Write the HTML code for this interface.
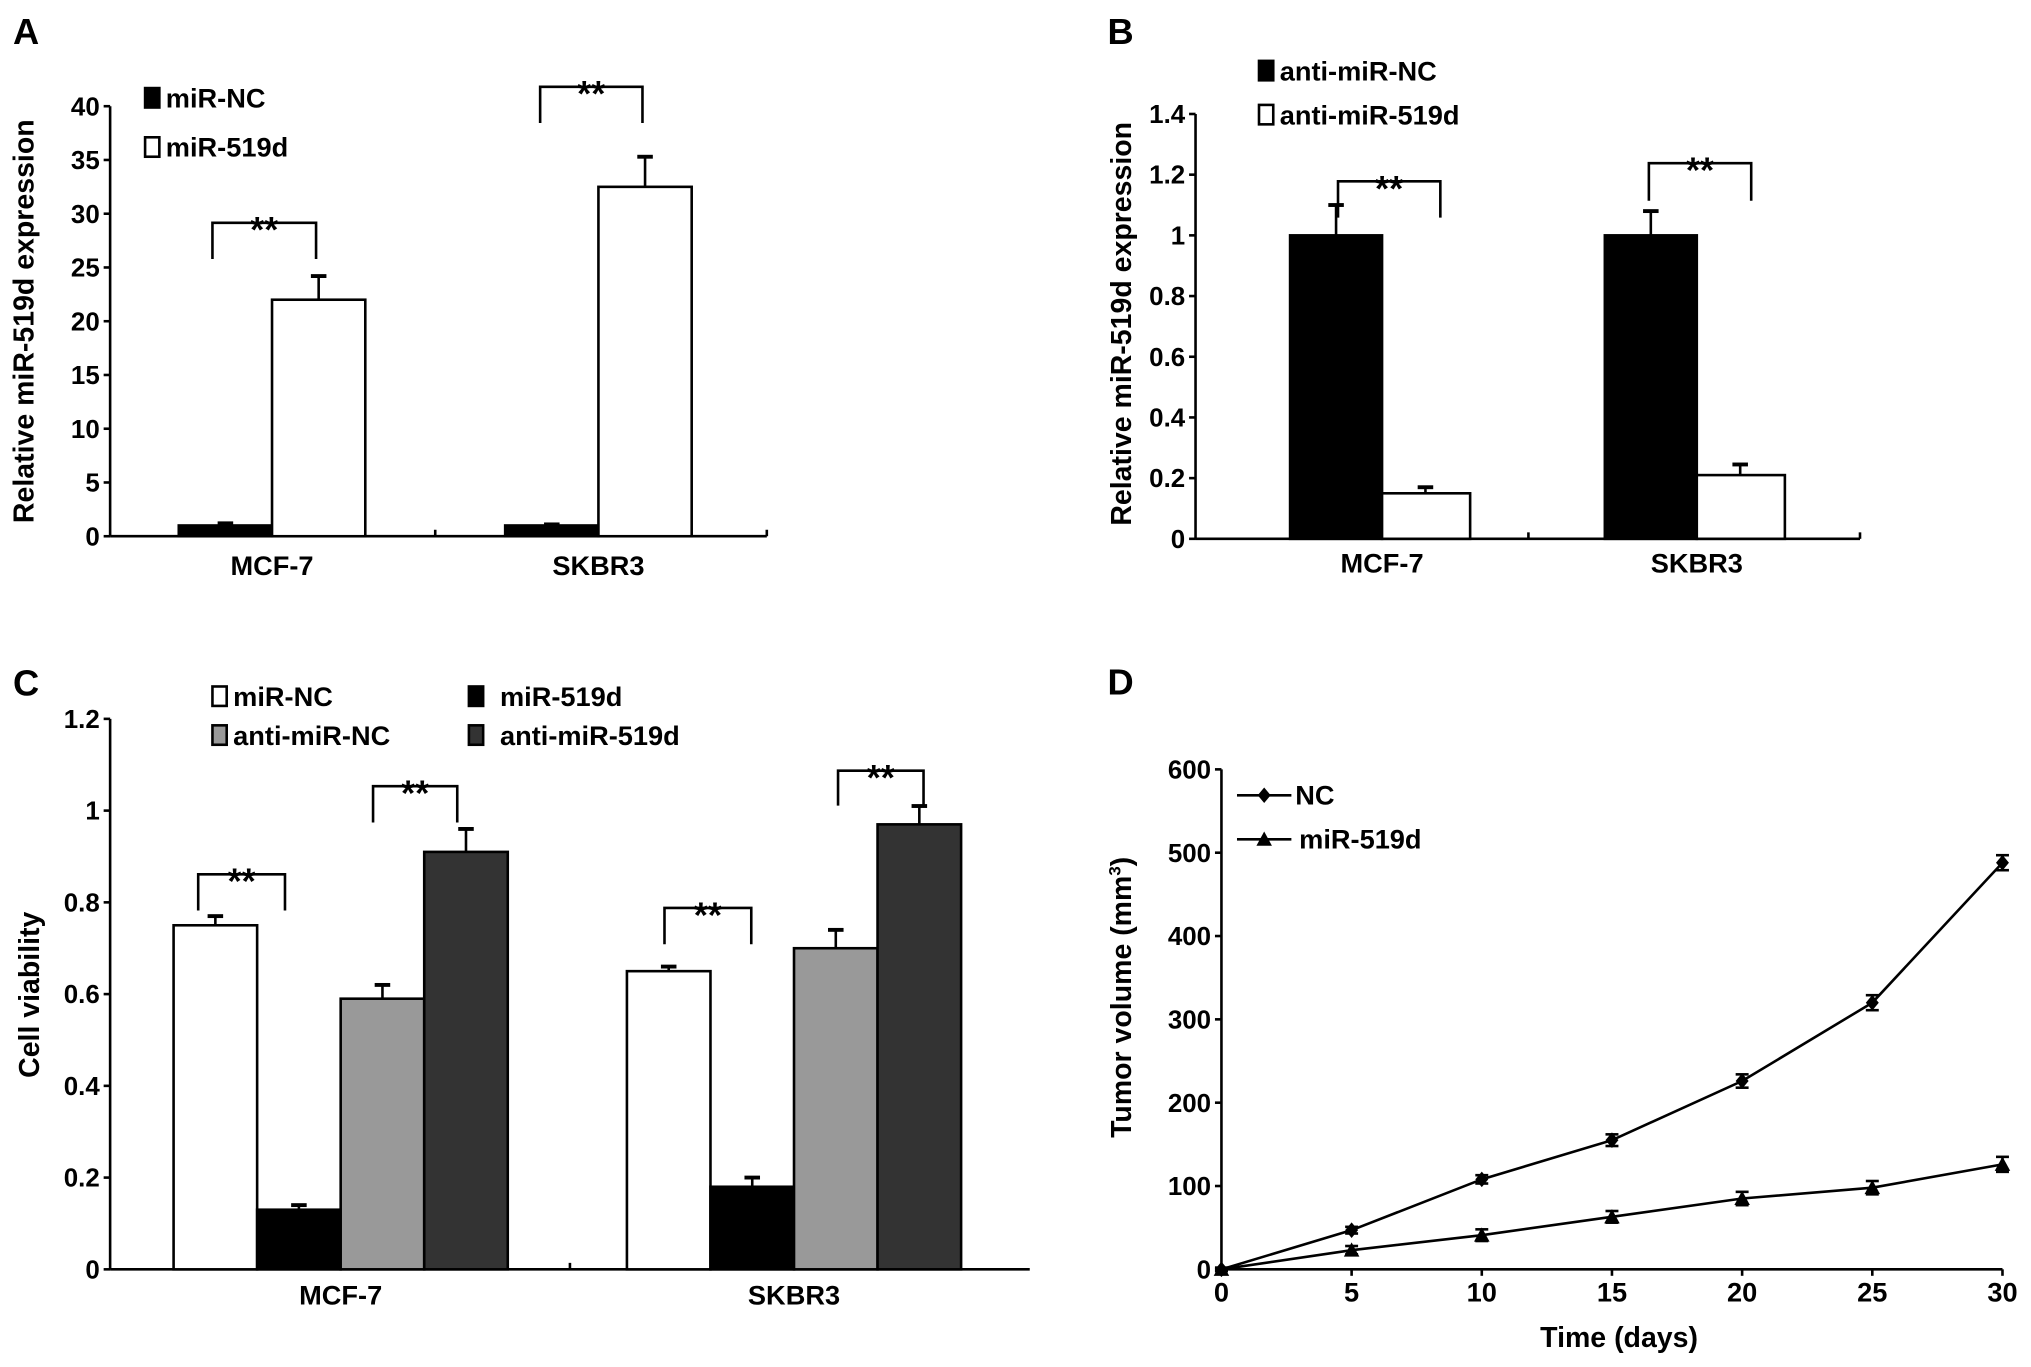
<!DOCTYPE html>
<html><head><meta charset="utf-8"><style>
html,body{margin:0;padding:0;background:#fff;}
svg{display:block;font-family:"Liberation Sans",Arial,sans-serif;font-weight:bold;}
</style></head><body>
<svg id="fig" xmlns="http://www.w3.org/2000/svg" width="2031" height="1367" viewBox="0 0 1568 1055.4"></svg>
<script>
// Panel A data
const catsA = ["MCF-7","SKBR3"];
const seriesA = ["miR-NC","miR-519d"];
const valsA_nc = [1.0, 1.0];
const errA_nc = [0.2, 0.1];
const valsA_519 = [22.0, 32.5];
const errA_519 = [2.2, 2.8];
const ticksA = [0,5,10,15,20,25,30,35,40];
// Panel B data
const catsB = ["MCF-7","SKBR3"];
const seriesB = ["anti-miR-NC","anti-miR-519d"];
const valsB_nc = [1.0, 1.0];
const errB_nc = [0.1, 0.08];
const valsB_519 = [0.15, 0.21];
const errB_519 = [0.02, 0.035];
const ticksB = [0,0.2,0.4,0.6,0.8,1,1.2,1.4];
// Panel C data
const catsC = ["MCF-7","SKBR3"];
const seriesC = ["miR-NC","miR-519d","anti-miR-NC","anti-miR-519d"];
const valsC_mirNC = [0.75, 0.65];
const errC_mirNC = [0.02, 0.01];
const valsC_mir519 = [0.13, 0.18];
const errC_mir519 = [0.01, 0.02];
const valsC_antiNC = [0.59, 0.70];
const errC_antiNC = [0.03, 0.04];
const valsC_anti519 = [0.91, 0.97];
const errC_anti519 = [0.05, 0.04];
const ticksC = [0,0.2,0.4,0.6,0.8,1,1.2];
// Panel D data
const daysD = [0,5,10,15,20,25,30];
const valsD_nc = [0,47,108,155,226,320,488];
const errD_nc = [2,4,5,7,8,9,9];
const valsD_519 = [0,23,41,63,85,98,126];
const errD_519 = [2,5,7,7,8,8,9];
const ticksDy = [0,100,200,300,400,500,600];
const ticksDx = [0,5,10,15,20,25,30];

const svg = document.getElementById('fig');
const NS = "http://www.w3.org/2000/svg";
function mk(tag, attrs, parent){
  const e = document.createElementNS(NS, tag);
  for (const k in attrs) e.setAttribute(k, attrs[k]);
  (parent||svg).appendChild(e);
  return e;
}
function txt(s, x, y, size, anchor, parent){
  const t = mk('text', {x:x, y:y, 'font-size':size, 'text-anchor':anchor||'middle', fill:'#000'}, parent);
  t.textContent = s;
  return t;
}
function line(x1,y1,x2,y2,w,parent){ return mk('line',{x1:x1,y1:y1,x2:x2,y2:y2,stroke:'#000','stroke-width':w||2},parent); }

function axesY(g, x0, y0, yTop, ticks, maxV, fmt){
  const sy = v => y0 - (v/maxV)*(y0-yTop);
  line(x0, yTop, x0, y0, 2, g);
  ticks.forEach(v=>{
    line(x0-5, sy(v), x0, sy(v), 2, g);
    const t = txt(fmt(v), x0-8, sy(v)+7, 20, 'end', g);
    
    
  });
  return sy;
}
function bar(g, x, w, y0, yv, fill, name){
  const r = mk('rect',{x:x, y:yv, width:w, height:y0-yv, fill:fill, stroke:'#000','stroke-width':2}, g);
  
  
}
function errUp(g, cx, yv, ye){
  line(cx, yv, cx, ye, 2, g);
  line(cx-6, ye, cx+6, ye, 3, g);
}
function bracket(g, x1, x2, y, drop){
  const p = mk('path',{d:`M${x1} ${y+drop} V${y} H${x2} V${y+drop}`, fill:'none', stroke:'#000','stroke-width':2}, g);
  
  
  const t = txt('**', (x1+x2)/2, y+15, 28, 'middle', g);
  
  
}
function ylabel(g, s, x, y){
  const t = mk('text',{x:0,y:0,'font-size':22,'text-anchor':'middle',fill:'#000',transform:`translate(${x},${y}) rotate(-90)`}, g);
  t.textContent = s;
  
  
  return t;
}
function legendBox(g, x, y, fill, label, name){
  const r = mk('rect',{x:x, y:y-8, width:11, height:15, fill:fill, stroke:'#000','stroke-width':2}, g);
  
  
  const t = txt(label, x+16, y+7, 21, 'start', g);
  
  
}
function panelLetter(s,x,y){
  const t = txt(s,x,y,28,'start');
  
  
}
const fmtDec = v => (v===0?'0':(Number.isInteger(v)?String(v):v.toFixed(1)));

// ---------- Panel A ----------
{
  const g = mk('g',{});
  
  
  panelLetter('A',10,34);
  const x0=85, y0=414, yTop=82, xEnd=592;
  const sy = axesY(g, x0, y0, yTop, ticksA, 40, v=>String(v));
  line(x0, y0, xEnd, y0, 2, g);
  line(336, y0, 336, y0-5, 2, g);
  line(xEnd, y0, xEnd, y0-5, 2, g);
  const centers=[210,462], bw = 72;
  catsA.forEach((c,i)=>{
    const cx = centers[i];
    bar(g, cx-bw, bw, y0, sy(valsA_nc[i]), '#000', 'bar-mir-nc-'+c.toLowerCase());
    errUp(g, cx-bw/2, sy(valsA_nc[i]), sy(valsA_nc[i]+errA_nc[i]));
    bar(g, cx, bw, y0, sy(valsA_519[i]), '#fff', 'bar-mir-519d-'+c.toLowerCase());
    errUp(g, cx+bw/2, sy(valsA_519[i]), sy(valsA_519[i]+errA_519[i]));
    const t = txt(c, cx, 444, 21, 'middle', g);
    
    
  });
  bracket(g,164,244,172,28);
  bracket(g,417,496,67,28);
  legendBox(g,112,76,'#000','miR-NC','legend-mir-nc');
  legendBox(g,112,114,'#fff','miR-519d','legend-mir-519d');
  ylabel(g,'Relative miR-519d expression',26,248);
}
// ---------- Panel B ----------
{
  const g = mk('g',{});
  
  
  panelLetter('B',855,34);
  const x0=923, y0=416, yTop=88, xEnd=1436;
  const sy = axesY(g, x0, y0, yTop, ticksB, 1.4, fmtDec);
  line(x0, y0, xEnd, y0, 2, g);
  line(1180, y0, 1180, y0-5, 2, g);
  line(xEnd, y0, xEnd, y0-5, 2, g);
  const centers=[1067,1310], bw=71;
  catsB.forEach((c,i)=>{
    const cx=centers[i];
    bar(g, cx-bw, bw, y0, sy(valsB_nc[i]), '#000', 'bar-anti-mir-nc-'+c.toLowerCase());
    errUp(g, cx-bw/2, sy(valsB_nc[i]), sy(valsB_nc[i]+errB_nc[i]));
    bar(g, cx, bw-3, y0, sy(valsB_519[i]), '#fff', 'bar-anti-mir-519d-'+c.toLowerCase());
    errUp(g, cx+bw/2-2, sy(valsB_519[i]), sy(valsB_519[i]+errB_519[i]));
    const t = txt(c, cx, 442, 21, 'middle', g);
    
    
  });
  bracket(g,1033,1112,140,28);
  bracket(g,1273,1352,126,29);
  legendBox(g,972,55,'#000','anti-miR-NC','legend-anti-mir-nc');
  legendBox(g,972,89,'#fff','anti-miR-519d','legend-anti-mir-519d');
  ylabel(g,'Relative miR-519d expression',873,250);
}
// ---------- Panel C ----------
{
  const g = mk('g',{});
  
  
  panelLetter('C',10,537);
  const x0=85, y0=980, yTop=555, xEnd=795;
  const sy = axesY(g, x0, y0, yTop, ticksC, 1.2, fmtDec);
  line(x0, y0, xEnd, y0, 2, g);
  line(440, y0, 440, y0-5, 2, g);
  const starts=[134,484], bw=64.5;
  const fills=['#fff','#000','#999','#333'];
  const vals=[valsC_mirNC,valsC_mir519,valsC_antiNC,valsC_anti519];
  const errs=[errC_mirNC,errC_mir519,errC_antiNC,errC_anti519];
  const names=['mir-nc','mir-519d','anti-mir-nc','anti-mir-519d'];
  catsC.forEach((c,i)=>{
    vals.forEach((arr,j)=>{
      const x = starts[i]+bw*j;
      bar(g, x, bw, y0, sy(arr[i]), fills[j], 'bar-'+names[j]+'-'+c.toLowerCase());
      errUp(g, x+bw/2, sy(arr[i]), sy(arr[i]+errs[j][i]));
    });
    const t = txt(c, starts[i]+bw*2, 1007, 21, 'middle', g);
    
    
  });
  bracket(g,153,220,675,28);
  bracket(g,288,353,607,28);
  bracket(g,513,580,701,28);
  bracket(g,647,713,595,27);
  legendBox(g,164,538,'#fff','miR-NC','legend-mir-nc-c');
  legendBox(g,362,538,'#000','  miR-519d','legend-mir-519d-c');
  legendBox(g,164,568,'#999','anti-miR-NC','legend-anti-mir-nc-c');
  legendBox(g,362,568,'#333','  anti-miR-519d','legend-anti-mir-519d-c');
  g.querySelectorAll('text').forEach(t=>{ if(t.textContent.startsWith('  ')){ t.textContent=t.textContent.trim(); t.setAttribute('x', +t.getAttribute('x')+8);} });
  ylabel(g,'Cell viability',30,768);
}
// ---------- Panel D ----------
{
  const g = mk('g',{});
  
  
  panelLetter('D',855,536);
  const x0=943, y0=980, yTop=594, xEnd=1546;
  const sy = axesY(g, x0, y0, yTop, ticksDy, 600, v=>String(v));
  const sx = d => x0 + (d/30)*(xEnd-x0);
  line(x0, y0, xEnd, y0, 2, g);
  ticksDx.forEach(d=>{
    line(sx(d), y0, sx(d), y0+5, 2, g);
    const t = txt(String(d), sx(d), 1005, 21, 'middle', g);
    
    
  });
  const xt = txt('Time (days)', 1250, 1040, 22, 'middle', g);
  
  
  const yt = ylabel(g,'Tumor volume (mm',873,770);
  const sup = mk('tspan',{dy:-8,'font-size':13}, yt); sup.textContent='3';
  const cl = mk('tspan',{dy:8}, yt); cl.textContent=')';

  function series(vals, errs, marker, name){
    const pts = daysD.map((d,i)=>sx(d)+','+sy(vals[i])).join(' ');
    const pl = mk('polyline',{points:pts, fill:'none', stroke:'#000','stroke-width':2}, g);
    
    
    daysD.forEach((d,i)=>{
      const x=sx(d), y=sy(vals[i]);
      const yh=sy(vals[i]+errs[i]), yl=sy(vals[i]-errs[i]);
      line(x,yh,x,yl,2,g); line(x-5,yh,x+5,yh,2,g); line(x-5,yl,x+5,yl,2,g);
      const m = marker==='d'
        ? mk('path',{d:`M${x} ${y-6} L${x+5} ${y} L${x} ${y+6} L${x-5} ${y} Z`, fill:'#000'}, g)
        : mk('path',{d:`M${x} ${y-6} L${x+6} ${y+5} L${x-6} ${y+5} Z`, fill:'#000'}, g);
      
      
    });
  }
  series(valsD_nc, errD_nc, 'd', 'nc');
  series(valsD_519, errD_519, 't', 'mir-519d');
  line(955,614,997,614,2,g);
  mk('path',{d:'M976 608 L981 614 L976 620 L971 614 Z',fill:'#000'},g);
  const l1 = txt('NC',1000,621,21,'start',g);
  
  
  line(955,648,997,648,2,g);
  mk('path',{d:'M976 642 L982 653 L970 653 Z',fill:'#000'},g);
  const l2 = txt('miR-519d',1003,655,21,'start',g);
  
  
}
</script>
</body></html>
